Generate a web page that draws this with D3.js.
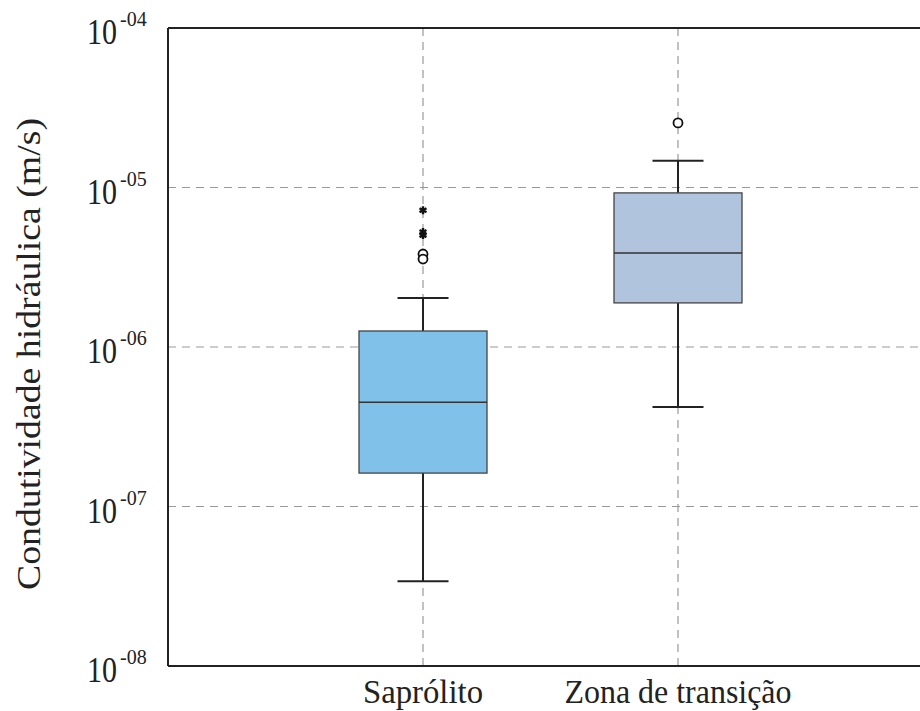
<!DOCTYPE html>
<html>
  <head>
    <style>
      body { margin: 0; background: #fff; }
      .grid line { stroke: #999; stroke-dasharray: 8,6; stroke-width: 1.2; }
    </style>
    <script src="https://d3js.org/d3.v7.min.js"></script>
  </head>
  <body>
    <svg id="chart" width="920" height="711"></svg>

    <script>
      // data
      var categories = ["Saprólito", "Zona de transição"];
      var whiskerLow = [3.4e-8, 4.2e-7];
      var q1 = [1.62e-7, 1.89e-6];
      var median = [4.5e-7, 3.88e-6];
      var q3 = [1.26e-6, 9.25e-6];
      var whiskerHigh = [2.03e-6, 1.47e-5];
      var outliersCircle = [[3.83e-6, 3.56e-6], [2.54e-5]];
      var outliersStar = [[7.2e-6, 5.26e-6, 5.03e-6], []];
      var boxColors = ["#7fc1e9", "#b0c4de"];
      var tickExps = [-8, -7, -6, -5, -4];
      var yLabel = "Condutividade hidráulica (m/s)";

      var svg = d3.select("#chart");
      var margin = {left: 168, top: 28, right: 0, bottom: 45};
      var W = 920, H = 711;
      var step = 255;
      var font = "Liberation Serif";
      var labelWidths = {"Saprólito": 120, "Zona de transição": 227};

      var y = d3.scaleLog().domain([1e-8, 1e-4]).range([H - margin.bottom, margin.top]);
      var x = d3.scalePoint().domain(categories).range([margin.left + step, margin.left + 2 * step]);

      // grid lines
      var grid = svg.append("g").attr("class", "grid");
      grid.selectAll(".hg").data(tickExps.slice(1, -1)).enter().append("line")
        .attr("x1", margin.left).attr("x2", W)
        .attr("y1", d => y(Math.pow(10, d))).attr("y2", d => y(Math.pow(10, d)));
      grid.selectAll(".vg").data(categories).enter().append("line")
        .attr("x1", d => x(d)).attr("x2", d => x(d))
        .attr("y1", margin.top).attr("y2", H - margin.bottom);

      var boxW = 128, capW = 51;

      categories.forEach(function(c, i) {
        var cx = x(c);
        var g = svg.append("g");
        // whiskers
        g.append("line").attr("x1", cx).attr("x2", cx)
          .attr("y1", y(q3[i])).attr("y2", y(whiskerHigh[i]))
          .attr("stroke", "#222").attr("stroke-width", 2);
        g.append("line").attr("x1", cx).attr("x2", cx)
          .attr("y1", y(q1[i])).attr("y2", y(whiskerLow[i]))
          .attr("stroke", "#222").attr("stroke-width", 2);
        [whiskerHigh[i], whiskerLow[i]].forEach(function(v) {
          g.append("line").attr("x1", cx - capW / 2).attr("x2", cx + capW / 2)
            .attr("y1", y(v)).attr("y2", y(v))
            .attr("stroke", "#222").attr("stroke-width", 2);
        });
        // box
        g.append("rect")
          .attr("x", cx - boxW / 2).attr("width", boxW)
          .attr("y", y(q3[i])).attr("height", y(q1[i]) - y(q3[i]))
          .attr("fill", boxColors[i]).attr("stroke", "#444").attr("stroke-width", 1.3);
        g.append("line").attr("x1", cx - boxW / 2).attr("x2", cx + boxW / 2)
          .attr("y1", y(median[i])).attr("y2", y(median[i]))
          .attr("stroke", "#333").attr("stroke-width", 1.5);
        // outliers
        g.selectAll(".oc").data(outliersCircle[i]).enter().append("circle")
          .attr("cx", cx).attr("cy", d => y(d)).attr("r", 4.5)
          .attr("fill", "#fff").attr("stroke", "#111").attr("stroke-width", 1.8);
        g.selectAll(".os").data(outliersStar[i]).enter().append("path")
          .attr("transform", d => "translate(" + cx + "," + y(d) + ")")
          .attr("d", d3.symbol(d3.symbolAsterisk, 45))
          .attr("stroke", "#111").attr("stroke-width", 2.4).attr("fill", "none");
      });

      // axes frame
      svg.append("line").attr("x1", margin.left).attr("x2", margin.left)
        .attr("y1", margin.top).attr("y2", H - margin.bottom)
        .attr("stroke", "#222").attr("stroke-width", 2);
      svg.append("line").attr("x1", margin.left).attr("x2", W)
        .attr("y1", margin.top).attr("y2", margin.top)
        .attr("stroke", "#222").attr("stroke-width", 2);
      svg.append("line").attr("x1", margin.left).attr("x2", W)
        .attr("y1", H - margin.bottom).attr("y2", H - margin.bottom)
        .attr("stroke", "#222").attr("stroke-width", 2);

      // y tick labels: 10^-0N
      var tl = svg.selectAll(".yt").data(tickExps).enter().append("g")
        .attr("transform", d => "translate(0," + y(Math.pow(10, d)) + ")");
      tl.append("text")
        .attr("x", 87).attr("y", 16)
        .attr("font-family", font).attr("font-size", 35).attr("fill", "#222")
        .attr("textLength", 30).attr("lengthAdjust", "spacingAndGlyphs")
        .text("10");
      tl.append("text")
        .attr("x", 120).attr("y", -2)
        .attr("font-family", font).attr("font-size", 20).attr("fill", "#222")
        .text(d => "-" + String(Math.abs(d)).padStart(2, "0"));

      // x labels
      svg.selectAll(".xl").data(categories).enter().append("text")
        .attr("x", d => x(d) - labelWidths[d] / 2).attr("y", 703)
        .attr("font-family", font).attr("font-size", 33).attr("fill", "#222")
        .attr("textLength", d => labelWidths[d]).attr("lengthAdjust", "spacingAndGlyphs")
        .text(d => d);

      // y label
      svg.append("text")
        .attr("transform", "translate(40,590) rotate(-90)")
        .attr("font-family", font).attr("font-size", 33).attr("fill", "#222")
        .attr("textLength", 472).attr("lengthAdjust", "spacingAndGlyphs")
        .text(yLabel);
    </script>
  </body>
</html>
